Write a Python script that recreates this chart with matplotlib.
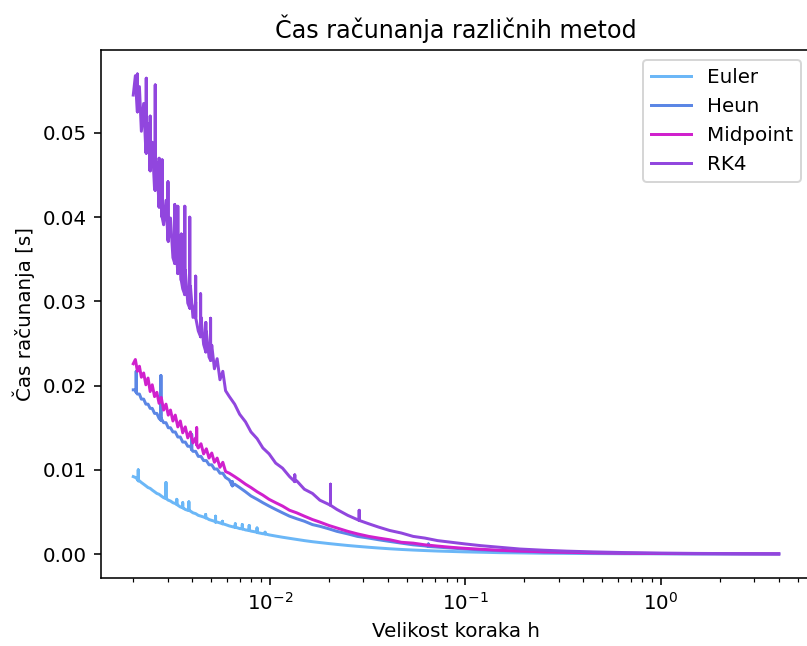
import matplotlib
matplotlib.use("Agg")
import matplotlib.pyplot as plt

# ---- data ----
h_grid = [0.00200, 0.00205, 0.00210, 0.00215, 0.00220, 0.00226, 0.00232, 0.00238, 0.00244, 0.00250,
          0.00257, 0.00264, 0.00271, 0.00278, 0.00286, 0.00294, 0.00302, 0.00310, 0.00319, 0.00328,
          0.00338, 0.00348, 0.00358, 0.00369, 0.00380, 0.00392, 0.00404, 0.00417, 0.00430, 0.00444,
          0.00458, 0.00473, 0.00488, 0.00504, 0.00520, 0.00537, 0.00555, 0.00574, 0.00593,
          0.0062, 0.0066, 0.0070, 0.0075, 0.0080, 0.0086, 0.0092, 0.0099, 0.0107, 0.0116,
          0.0126, 0.0137, 0.0150, 0.0165, 0.018, 0.020, 0.022, 0.025, 0.028, 0.032,
          0.036, 0.041, 0.047, 0.054, 0.062, 0.072, 0.085, 0.10, 0.12, 0.15,
          0.19, 0.25, 0.33, 0.45, 0.65, 1.0, 1.5, 2.5, 4.0]

t_euler = [0.0092, 0.0091, 0.0089, 0.0087, 0.0085, 0.0083, 0.0081, 0.0079, 0.0078, 0.0076,
           0.0074, 0.0072, 0.0071, 0.0069, 0.0067, 0.0066, 0.0064, 0.0063, 0.0061, 0.0060,
           0.0058, 0.0056, 0.0055, 0.0053, 0.0052, 0.0051, 0.0049, 0.0048, 0.0046, 0.0045,
           0.0044, 0.0043, 0.0041, 0.0040, 0.0039, 0.0038, 0.0037, 0.0036, 0.0035,
           0.00334, 0.00318, 0.00303, 0.00287, 0.00273, 0.00256, 0.00242, 0.00228, 0.00214, 0.0020,
           0.00187, 0.00174, 0.0016, 0.00147, 0.00137, 0.00125, 0.00115, 0.00102, 0.00092, 0.00081,
           0.00072, 0.00063, 0.00055, 0.00048, 0.00042, 0.00036, 0.00031, 0.00026, 0.00022, 0.00017,
           0.00014, 0.0001, 0.00008, 0.00006, 0.00004, 0.00003, 0.00002, 0.00001, 0.00001]

t_heun = [0.0195, 0.0195, 0.0190, 0.0190, 0.0184, 0.0184, 0.0178, 0.0178, 0.0173, 0.0173,
          0.0167, 0.0167, 0.0161, 0.0161, 0.0156, 0.0156, 0.0150, 0.0150, 0.0145, 0.0145,
          0.0139, 0.0139, 0.0133, 0.0133, 0.0128, 0.0128, 0.0122, 0.0122, 0.0116, 0.0116,
          0.0111, 0.0111, 0.0106, 0.0106, 0.0101, 0.0101, 0.0096, 0.0096, 0.0091,
          0.0088, 0.0083, 0.0079, 0.0074, 0.0069, 0.0065, 0.0061, 0.0057, 0.0053, 0.0049,
          0.0045, 0.0042, 0.0039, 0.0035, 0.0033, 0.0030, 0.0027, 0.0024, 0.0021, 0.0019,
          0.0017, 0.0015, 0.0013, 0.0011, 0.00097, 0.00083, 0.00071, 0.0006, 0.0005, 0.0004,
          0.00032, 0.00024, 0.00018, 0.00013, 0.00009, 0.00006, 0.00004, 0.00003, 0.00002]

t_midpoint = [0.0226, 0.0231, 0.0217, 0.0223, 0.0210, 0.0215, 0.0201, 0.0209, 0.0193, 0.0201,
              0.0187, 0.0192, 0.0179, 0.0186, 0.0171, 0.0178, 0.0165, 0.0171, 0.0158, 0.0165,
              0.0151, 0.0158, 0.0144, 0.0151, 0.0138, 0.0145, 0.0132, 0.0138, 0.0126, 0.0131,
              0.0119, 0.0125, 0.0114, 0.0120, 0.0109, 0.0114, 0.0103, 0.0109, 0.0098,
              0.0096, 0.0092, 0.0088, 0.0083, 0.0079, 0.0074, 0.0070, 0.0065, 0.0061, 0.0057,
              0.0052, 0.0049, 0.0045, 0.0041, 0.0038, 0.0034, 0.0031, 0.0027, 0.0024, 0.0021,
              0.0019, 0.0017, 0.0014, 0.0013, 0.0011, 0.00095, 0.0008, 0.00068, 0.00057, 0.00045,
              0.00036, 0.00027, 0.00021, 0.00015, 0.0001, 0.00007, 0.00005, 0.00003, 0.00002]

t_rk4 = [0.0545, 0.0568, 0.0525, 0.0555, 0.0502, 0.0535, 0.0478, 0.0511, 0.0455, 0.0489,
         0.0433, 0.0465, 0.0412, 0.0443, 0.0391, 0.0420, 0.0371, 0.0399, 0.0352, 0.0378,
         0.0333, 0.0357, 0.0315, 0.0337, 0.0298, 0.0318, 0.0281, 0.0299, 0.0265, 0.0281,
         0.0249, 0.0264, 0.0234, 0.0248, 0.0220, 0.0232, 0.0207, 0.0217, 0.0194,
         0.0187, 0.0178, 0.0166, 0.0157, 0.0145, 0.0137, 0.0126, 0.0119, 0.0108, 0.0102,
         0.0092, 0.0087, 0.0077, 0.0072, 0.0064, 0.0059, 0.0053, 0.0046, 0.0041, 0.0036,
         0.0032, 0.0028, 0.0025, 0.0021, 0.0019, 0.0016, 0.0014, 0.0012, 0.0010, 0.0008,
         0.0006, 0.00046, 0.00035, 0.00026, 0.00018, 0.00012, 0.00008, 0.00005, 0.00003]

# spikes: step size, value before spike, spike peak
spike_h_euler = [0.00212, 0.00294, 0.00334, 0.00358, 0.00385, 0.00469, 0.00527, 0.00571,
                 0.00665, 0.00722, 0.00783, 0.00859, 0.00944]
spike_lo_euler = [0.0087, 0.0066, 0.0059, 0.0055, 0.0052, 0.0043, 0.0038, 0.0036,
                  0.0032, 0.0030, 0.0028, 0.0026, 0.0024]
spike_hi_euler = [0.0100, 0.0085, 0.0065, 0.0061, 0.0062, 0.0047, 0.0045, 0.0039,
                  0.0036, 0.0035, 0.0034, 0.0031, 0.0026]

spike_h_heun = [0.00207, 0.00277, 0.00398, 0.00642, 0.0646]
spike_lo_heun = [0.0192, 0.0159, 0.0124, 0.0081, 0.0009]
spike_hi_heun = [0.0217, 0.0212, 0.0142, 0.0086, 0.0012]

spike_h_midpoint = [0.00422]
spike_lo_midpoint = [0.0130]
spike_hi_midpoint = [0.0150]

spike_h_rk4 = [0.00210, 0.00233, 0.00244, 0.00259, 0.00271, 0.00281, 0.00301, 0.00326,
               0.00338, 0.00352, 0.00367, 0.00389, 0.00417, 0.00442, 0.00470, 0.00497,
               0.0134, 0.0204, 0.0286]
spike_lo_rk4 = [0.0525, 0.0476, 0.0455, 0.0432, 0.0412, 0.0400, 0.0373, 0.0345,
                0.0333, 0.0325, 0.0308, 0.0292, 0.0281, 0.0258, 0.0240, 0.0230,
                0.0086, 0.0058, 0.0040]
spike_hi_rk4 = [0.0570, 0.0565, 0.0520, 0.0557, 0.0470, 0.0468, 0.0442, 0.0415,
                0.0413, 0.0380, 0.0413, 0.0400, 0.0330, 0.0309, 0.0275, 0.0280,
                0.0094, 0.0083, 0.0052]

methods = ["Euler", "Heun", "Midpoint", "RK4"]
colors = ["#6bb7f7", "#5b86e5", "#d020cd", "#9146de"]


def merge(h_base, t_base, sh, slo, shi):
    pts = [(h, 0, t) for h, t in zip(h_base, t_base)]
    for h, lo, hi in zip(sh, slo, shi):
        pts += [(h, 1, lo), (h, 2, hi), (h, 3, lo)]
    pts.sort(key=lambda p: (p[0], p[1]))
    return [p[0] for p in pts], [p[2] for p in pts]


series = [
    merge(h_grid, t_euler, spike_h_euler, spike_lo_euler, spike_hi_euler),
    merge(h_grid, t_heun, spike_h_heun, spike_lo_heun, spike_hi_heun),
    merge(h_grid, t_midpoint, spike_h_midpoint, spike_lo_midpoint, spike_hi_midpoint),
    merge(h_grid, t_rk4, spike_h_rk4, spike_lo_rk4, spike_hi_rk4),
]

DPI = 143
fig = plt.figure(figsize=(807 / DPI, 646 / DPI), dpi=DPI)
ax = fig.add_axes([101 / 807, 68 / 646, 710 / 807, 528 / 646])

for (hx, ty), name, c in zip(series, methods, colors):
    ax.plot(hx, ty, color=c, label=name, lw=1.5)

ax.set_xscale("log")
ax.set_title("Čas računanja različnih metod")
ax.set_xlabel("Velikost koraka h")
ax.set_ylabel("Čas računanja [s]")
ax.legend(loc="upper right")

fig.savefig("out.png", dpi=DPI)
